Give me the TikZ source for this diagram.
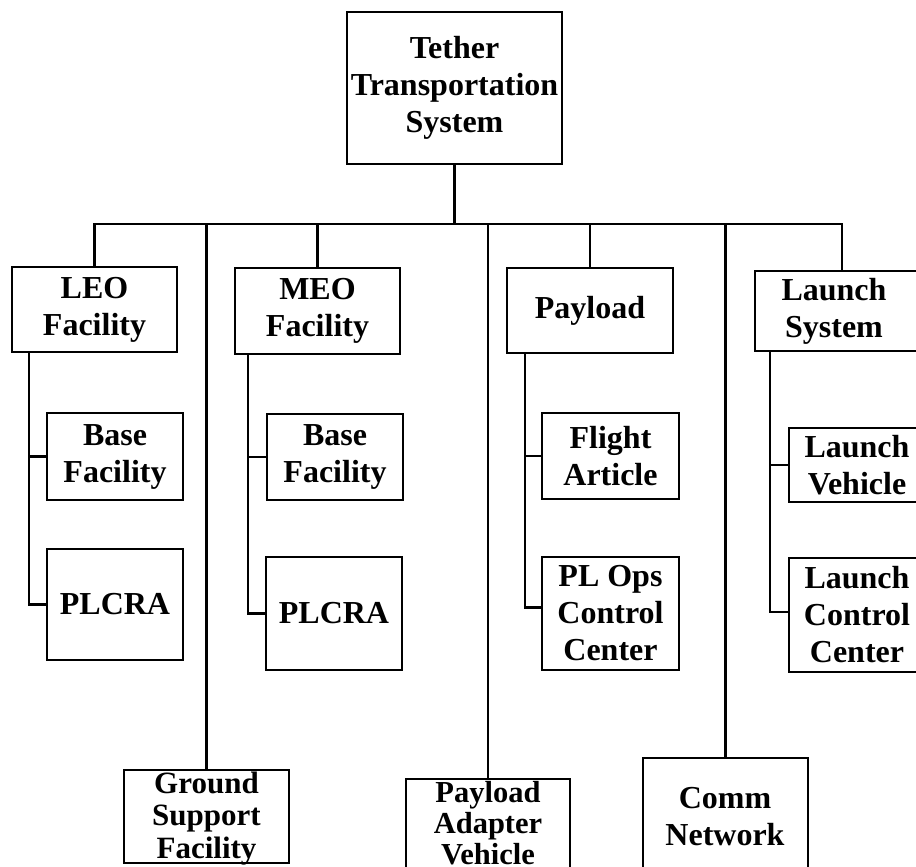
\documentclass[tikz,border=0pt]{standalone}
\usepackage{fontspec}
\setmainfont{Liberation Serif}
\begin{document}
\begin{tikzpicture}[x=1pt,y=-1pt,
  box/.style={draw, line width=2.8pt, rectangle, inner sep=0pt, align=center,
    font=\bfseries\fontsize{32}{37}\selectfont},
  txt/.style={inner sep=0pt, align=center, font=\bfseries\fontsize{32}{37}\selectfont},
  tight/.style={font=\bfseries\fontsize{31}{32.5}\selectfont},
  tighter/.style={font=\bfseries\fontsize{30.5}{31}\selectfont},
  link/.style={line width=2.8pt}]
\clip (0,0) rectangle (916,867);
\fill[white] (0,0) rectangle (916,867);
% boxes
\node[box, minimum width=215, minimum height=152] (tts) at (454.5,88) {Tether\\Transportation\\System};
\node[box, minimum width=165, minimum height=85] (leo) at (94.5,309.5) {LEO\\Facility};
\node[box, minimum width=136, minimum height=87] (leobase) at (115,456.5) {Base\\Facility};
\node[box, minimum width=136, minimum height=111] (leoplcra) at (115,604.5) {PLCRA};
\node[box, minimum width=165, minimum height=86] (meo) at (317.5,311) {MEO\\Facility};
\node[box, minimum width=136, minimum height=86] (meobase) at (335,457) {Base\\Facility};
\node[box, minimum width=136, minimum height=113] (meoplcra) at (334,613.5) {PLCRA};
\node[box, minimum width=166, minimum height=85] (payload) at (590,310.5) {Payload};
\node[box, minimum width=137, minimum height=86] (flight) at (610.5,456) {Flight\\Article};
\node[box, minimum width=137, minimum height=113] (plops) at (610.5,613.5) {PL Ops\\Control\\Center};
\node[box, minimum width=180, minimum height=80] (lsys) at (845,311) {};
\node[txt] (lsystxt) at (834,311) {Launch\\System};
\node[box, minimum width=146, minimum height=74] (lveh) at (862,465) {};
\node[txt] (lvehtxt) at (857,465) {Launch\\Vehicle};
\node[box, minimum width=146, minimum height=114] (lcc) at (862,615) {};
\node[txt] (lcctxt) at (857,615) {Launch\\Control\\Center};
\node[box, minimum width=165, minimum height=93] (gsf) at (206.5,816.5) {};
\node[txt, tight, anchor=north] (gsftxt) at (206.5,771.5) {Ground\\Support\\Facility};
\node[box, minimum width=164, minimum height=111] (pav) at (488,834.5) {};
\node[txt, tighter, anchor=north] (pavtxt) at (488,781) {Payload\\Adapter\\Vehicle};
\node[box, minimum width=165, minimum height=122] (comm) at (725.5,819) {};
\node[txt] (commtxt) at (725,817) {Comm\\Network};
% connectors
\coordinate (bus) at (453,224);
\coordinate (lsdrop) at (842,271);
\draw[link] (leo.north) |- (bus) -| (lsdrop);
\draw[link] (tts.south) -- (tts.south |- bus);
\draw[link] (meo.north) -- (meo.north |- bus);
\draw[link] (payload.north) -- (payload.north |- bus);
\draw[link] (gsf.north) -- (gsf.north |- bus);
\draw[link] (pav.north) -- (pav.north |- bus);
\draw[link] (comm.north) -- (comm.north |- bus);
% spines
\coordinate (leosp) at (29,352);
\draw[link] (leosp) |- (leoplcra.west);
\draw[link] (leosp |- leobase.west) -- (leobase.west);
\coordinate (meosp) at (248,354);
\draw[link] (meosp) |- (meoplcra.west);
\draw[link] (meosp |- meobase.west) -- (meobase.west);
\coordinate (paysp) at (525,353);
\draw[link] (paysp) |- ([yshift=6pt]plops.west);
\draw[link] (paysp |- flight.west) -- (flight.west);
\coordinate (lsp) at (770,351);
\draw[link] (lsp) |- ([yshift=3pt]lcc.west);
\draw[link] (lsp |- lveh.west) -- (lveh.west);
\end{tikzpicture}
\end{document}
